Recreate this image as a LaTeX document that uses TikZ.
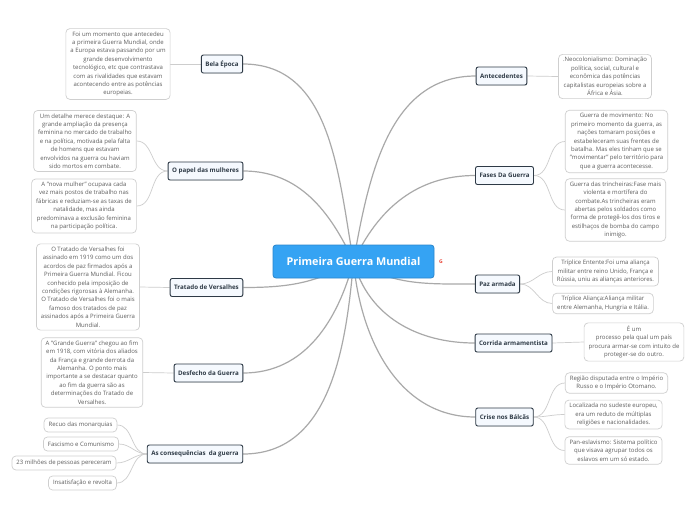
\documentclass[tikz,border=0pt]{standalone}
\usepackage{fontspec}
\setmainfont{Open Sans}
\usetikzlibrary{backgrounds,shadows}
\definecolor{centerfill}{HTML}{35A3F3}
\definecolor{centerdraw}{HTML}{2A86CC}
\definecolor{topicdraw}{HTML}{2E3A46}
\definecolor{topicfill}{HTML}{F5F9FE}
\definecolor{notedraw}{HTML}{CFCFCF}
\definecolor{notetext}{HTML}{5E5E5E}
\definecolor{mainline}{HTML}{A9A9A9}
\definecolor{subline}{HTML}{CDCDCD}
\definecolor{gred}{HTML}{EA4335}
\tikzset{
  central/.style={draw=centerdraw, fill=centerfill, line width=0.8pt, rounded corners=3pt,
    minimum width=161pt, minimum height=33pt, text=white,
    font=\bfseries\fontsize{10.8}{12}\selectfont},
  topic/.style={draw=topicdraw, fill=topicfill, line width=0.9pt, rounded corners=2pt,
    minimum height=18pt, inner xsep=4pt, text=topicdraw,
    font=\bfseries\fontsize{6.2}{7}\selectfont,
    drop shadow={opacity=0.18, shadow xshift=0.6pt, shadow yshift=-0.6pt}},
  note/.style={draw=notedraw, fill=white, line width=0.7pt, rounded corners=4pt,
    align=center, inner xsep=4.5pt, inner ysep=3pt, text=notetext,
    font=\fontsize{6}{8.4}\selectfont},
  item/.style={note, minimum height=14pt, inner ysep=1pt},
  mainconn/.style={draw=mainline, line width=1.2pt},
  subconn/.style={draw=subline, line width=0.7pt},
}
\begin{document}
\begin{tikzpicture}[x=1pt,y=-1pt]
\useasboundingbox (0,0) rectangle (696,520);

% central
\node[central] (c) at (353.5,261.5) {Primeira Guerra Mundial};
\node[text=gred, font=\bfseries\fontsize{5}{6}\selectfont, inner sep=0pt] (g) at (441,262) {G};

% left topics
\node[topic] (bela) at (222,64) {Bela Época};
\node[topic] (mulh) at (205.5,171) {O papel das mulheres};
\node[topic] (vers) at (206.5,287.5) {Tratado de Versalhes};
\node[topic] (desf) at (208.5,373) {Desfecho da Guerra};
\node[topic] (cons) at (195,454) {As consequências\ \ da guerra};

% right topics
\node[topic] (ante) at (501.5,76) {Antecedentes};
\node[topic] (fase) at (504.5,175.5) {Fases Da Guerra};
\node[topic] (paz) at (497.5,284) {Paz armada};
\node[topic] (corr) at (513.5,343) {Corrida armamentista};
\node[topic] (cris) at (504.5,417) {Crise nos Bálcãs};

% left notes
\node[note] (belaN) at (118,64) {Foi um momento que antecedeu\\a primeira Guerra Mundial, onde\\a Europa estava passando por um\\grande desenvolvimento\\tecnológico, etc que contrastava\\com as rivalidades que estavam\\acontecendo entre as potências\\europeias.};
\node[note] (mulhA) at (85,141) {Um detalhe merece destaque: A\\grande ampliação da presença\\feminina no mercado de trabalho\\e na política, motivada pela falta\\de homens que estavam\\envolvidos na guerra ou haviam\\sido mortos em combate.};
\node[note] (mulhB) at (84,206) {A "nova mulher" ocupava cada\\vez mais postos de trabalho nas\\fábricas e reduziam-se as taxas de\\natalidade, mas ainda\\predominava a exclusão feminina\\na participação política.};
\node[note] (versN) at (88,287) {O Tratado de Versalhes foi\\assinado em 1919 como um dos\\acordos de paz firmados após a\\Primeira Guerra Mundial. Ficou\\conhecido pela imposição de\\condições rigorosas à Alemanha.\\O Tratado de Versalhes foi o mais\\famoso dos tratados de paz\\assinados após a Primeira Guerra\\Mundial.};
\node[note] (desfN) at (92,372.5) {A "Grande Guerra" chegou ao fim\\em 1918, com vitória dos aliados\\da França e grande derrota da\\Alemanha. O ponto mais\\importante a se destacar quanto\\ao fim da guerra são as\\determinações do Tratado de\\Versalhes.};
\node[item] (consA) at (80.5,425) {Recuo das monarquias};
\node[item] (consB) at (81,444) {Fascismo e Comunismo};
\node[item] (consC) at (64,463) {23 milhões de pessoas pereceram};
\node[item] (consD) at (82.5,483) {Insatisfação e revolta};

% right notes
\node[note] (anteN) at (605,76.5) {.Neocolonialismo: Dominação\\política, social, cultural e\\econômica das potências\\capitalistas europeias sobre a\\África e Ásia.};
\node[note] (faseA) at (616.5,141.5) {Guerra de movimento: No\\primeiro momento da guerra, as\\nações tomaram posições e\\estabeleceram suas frentes de\\batalha. Mas eles tinham que se\\"movimentar'' pelo território para\\que a guerra acontecesse.};
\node[note] (faseB) at (615.5,210) {Guerra das trincheiras:Fase mais\\violenta e mortífera do\\combate.As trincheiras eram\\abertas pelos soldados como\\forma de protegê-los dos tiros e\\estilhaços de bomba do campo\\inimigo.};
\node[note] (pazA) at (605.5,271.5) {Tríplice Entente:Foi uma aliança\\militar entre reino Unido, França e\\Rússia, uniu as alianças anteriores.};
\node[note] (pazB) at (603,303.5) {Tríplice Aliança:Aliança militar\\entre Alemanha, Hungria e Itália.};
\node[note] (corrN) at (634,342) {É um\\processo pela qual um país\\procura armar-se com intuito de\\proteger-se do outro.};
\node[note] (crisA) at (616.5,383) {Região disputada entre o Império\\Russo e o Império Otomano.};
\node[note] (crisB) at (613.5,414.5) {Localizada no sudeste europeu,\\era um reduto de múltiplas\\religiões e nacionalidades.};
\node[note] (crisC) at (613.5,450.5) {Pan-eslavismo: Sistema político\\que visava agrupar todos os\\eslavos em um só estado.};

\begin{pgfonlayer}{background}
\fill[white] (0,0) rectangle (696,520);
% main connectors
\draw[mainconn] (c.center) to[out=100,in=0] (bela.east);
\draw[mainconn] (c.center) to[out=115,in=0] (mulh.east);
\draw[mainconn] (c.center) to[out=-150,in=0] (vers.east);
\draw[mainconn] (c.center) to[out=-105,in=0] (desf.east);
\draw[mainconn] (c.center) to[out=-95,in=0] (cons.east);
\draw[mainconn] (c.center) to[out=80,in=180] (ante.west);
\draw[mainconn] (c.center) to[out=65,in=180] (fase.west);
\draw[mainconn] (c.center) to[out=-30,in=180] (paz.west);
\draw[mainconn] (c.center) to[out=-75,in=180] (corr.west);
\draw[mainconn] (c.center) to[out=-85,in=180] (cris.west);
% sub connectors
\draw[subconn] (bela.west) -- (belaN.east);
\draw[subconn] (mulh.west) to[out=180,in=0] (mulhA.east);
\draw[subconn] (mulh.west) to[out=180,in=0] (mulhB.east);
\draw[subconn] (vers.west) -- (versN.east);
\draw[subconn] (desf.west) -- (desfN.east);
\draw[subconn] (cons.west) to[out=180,in=0] (consA.east);
\draw[subconn] (cons.west) to[out=180,in=0] (consB.east);
\draw[subconn] (cons.west) to[out=180,in=0] (consC.east);
\draw[subconn] (cons.west) to[out=180,in=0] (consD.east);
\draw[subconn] (ante.east) -- (anteN.west);
\draw[subconn] (fase.east) to[out=0,in=180] (faseA.west);
\draw[subconn] (fase.east) to[out=0,in=180] (faseB.west);
\draw[subconn] (paz.east) to[out=0,in=180] (pazA.west);
\draw[subconn] (paz.east) to[out=0,in=180] (pazB.west);
\draw[subconn] (corr.east) -- (corrN.west);
\draw[subconn] (cris.east) to[out=0,in=180] (crisA.west);
\draw[subconn] (cris.east) to[out=0,in=180] (crisB.west);
\draw[subconn] (cris.east) to[out=0,in=180] (crisC.west);
\end{pgfonlayer}
\end{tikzpicture}
\end{document}
